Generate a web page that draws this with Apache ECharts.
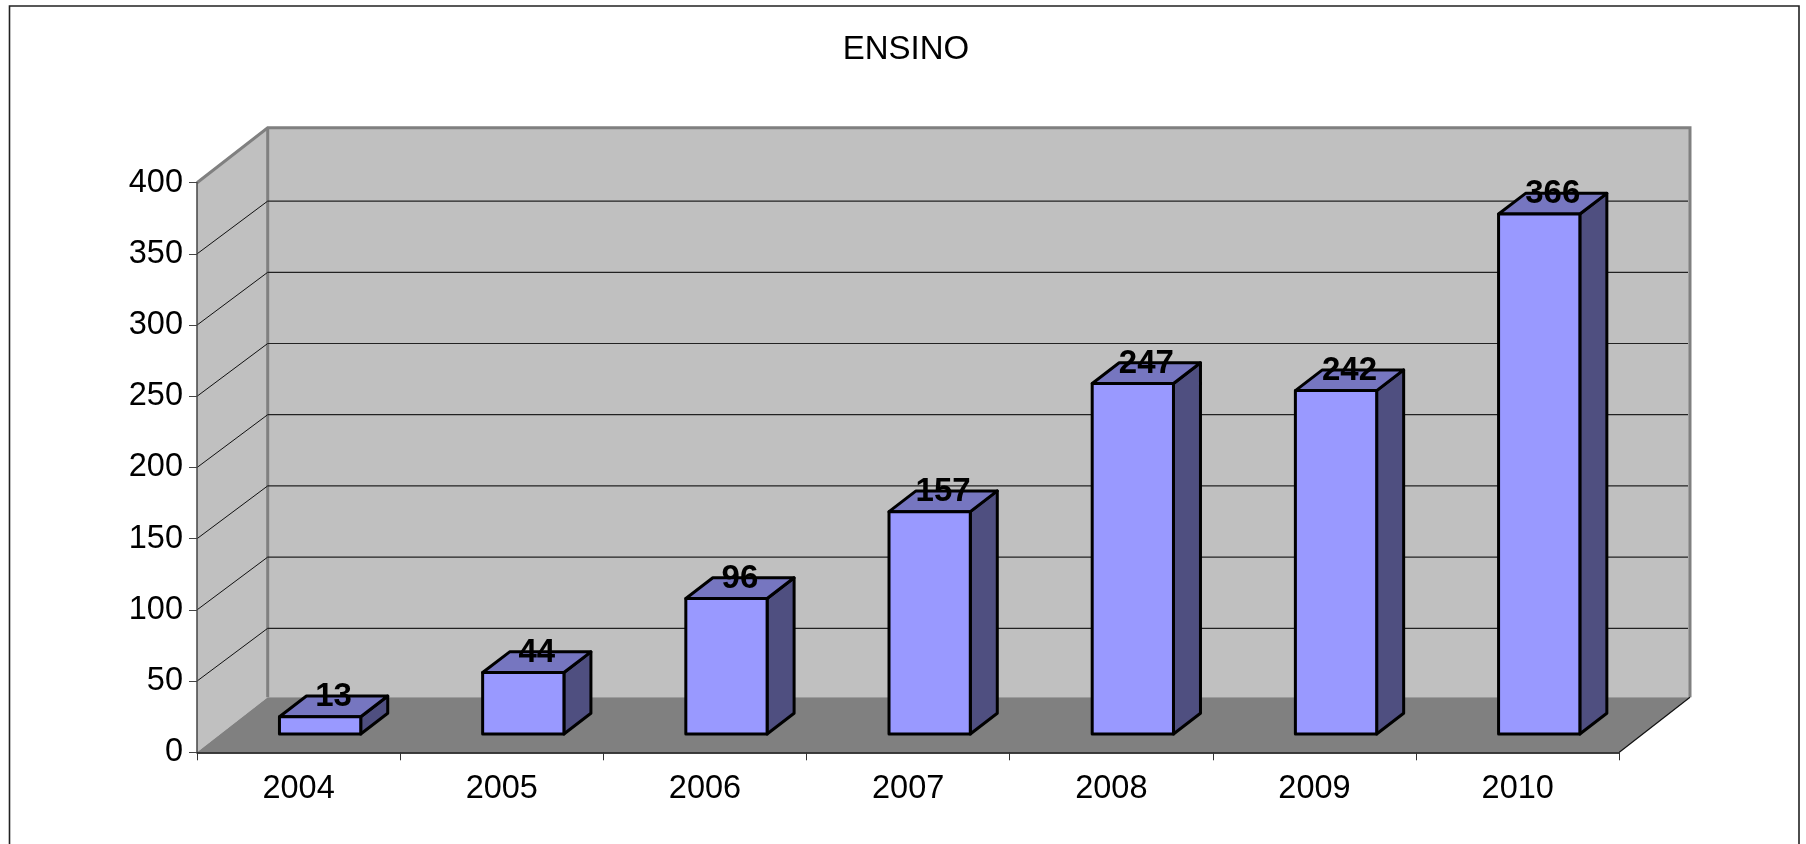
<!DOCTYPE html>
<html><head><meta charset="utf-8">
<style>html,body{margin:0;padding:0;background:#fff;overflow:hidden}#c{width:1806px;height:844px}</style>
<script src="https://cdn.jsdelivr.net/npm/echarts@6/dist/echarts.min.js"></script>
</head><body><div id="c"></div>
<script>
const titleText = 'ENSINO';
const categories = ['2004','2005','2006','2007','2008','2009','2010'];
const values = [13,44,96,157,247,242,366];
const gridTicks = [50,100,150,200,250,300,350,400];

const FONT = '"Liberation Sans", Arial, sans-serif';
const WALL_DX = 70.7, WALL_DY = 55, GRID_DY = 52.8;
const BAR_DX = 27, BAR_DY = 20.7, BAR_SHIFT_X = 21.5, BAR_SHIFT_Y = 18.3, BAR_TOP_ADJ = 1.2, BAR_W = 0.4;

const chart = echarts.init(document.getElementById('c'), null, {renderer:'canvas'});

function wallsItem(params, api){
  const r = params.coordSys;
  const x0 = r.x, x1 = r.x + r.width, yT = r.y, yB = r.y + r.height;
  const gray = '#808080';
  return {type:'group', children:[
    {type:'polygon', shape:{points:[[x0,yT],[x0+WALL_DX,yT-WALL_DY],[x0+WALL_DX,yB-WALL_DY],[x0,yB]]}, style:{fill:'#C0C0C0'}},
    {type:'rect', shape:{x:x0+WALL_DX,y:yT-WALL_DY,width:r.width,height:r.height}, style:{fill:'#C0C0C0'}},
    {type:'polygon', shape:{points:[[x0,yB],[x0+WALL_DX,yB-WALL_DY],[x1+WALL_DX,yB-WALL_DY],[x1,yB]]}, style:{fill:gray}},
    {type:'polyline', shape:{points:[[x0,yT],[x0+WALL_DX,yT-WALL_DY],[x1+WALL_DX,yT-WALL_DY],[x1+WALL_DX,yB-WALL_DY]]}, style:{stroke:gray,lineWidth:3,fill:null}},
    {type:'line', shape:{x1:x0+WALL_DX,y1:yT-WALL_DY,x2:x0+WALL_DX,y2:yB-WALL_DY}, style:{stroke:gray,lineWidth:3}},
    {type:'line', shape:{x1:x1,y1:yB,x2:x1+WALL_DX,y2:yB-WALL_DY}, style:{stroke:'#111',lineWidth:1.2}}
  ]};
}
function gridItem(params, api){
  const r = params.coordSys;
  const p = api.coord([0, api.value(0)]);
  const y = p[1], x0 = r.x, x1 = r.x + r.width;
  const top = api.value(0) === 400;
  return {type:'group', children: top ? [] : [
    {type:'line', shape:{x1:x0,y1:y,x2:x0+WALL_DX,y2:y-GRID_DY}, style:{stroke:'#111',lineWidth:1}},
    {type:'line', shape:{x1:x0+WALL_DX,y1:y-GRID_DY,x2:x1+WALL_DX-2,y2:y-GRID_DY}, style:{stroke:'#222',lineWidth:1.2}}
  ]};
}
function barItem(params, api){
  const i = api.value(0), v = api.value(1);
  const c = api.coord([i, v]), c0 = api.coord([i, 0]);
  const band = api.size([1,0])[0];
  const w = band * BAR_W;
  const xL = c[0] + BAR_SHIFT_X - w/2, xR = xL + w;
  const yT = c[1] - BAR_SHIFT_Y + BAR_TOP_ADJ, yB = c0[1] - BAR_SHIFT_Y;
  const ln = {stroke:'#000', lineWidth:3, lineJoin:'round'};
  return {type:'group', children:[
    {type:'polygon', shape:{points:[[xR,yT],[xR+BAR_DX,yT-BAR_DY],[xR+BAR_DX,yB-BAR_DY],[xR,yB]]}, style:Object.assign({fill:'#4F4F80'},ln)},
    {type:'polygon', shape:{points:[[xL,yT],[xL+BAR_DX,yT-BAR_DY],[xR+BAR_DX,yT-BAR_DY],[xR,yT]]}, style:Object.assign({fill:'#7676C0'},ln)},
    {type:'rect', shape:{x:xL,y:yT,width:w,height:yB-yT}, style:Object.assign({fill:'#9999FF'},ln)},
    {type:'text', style:{text:String(v), x:(xL+xR)/2+BAR_DX/2, y:yT-BAR_DY+1, align:'center', verticalAlign:'middle',
      font:'bold 33px '+FONT, fill:'#000'}}
  ]};
}

chart.setOption({
  animation:false,
  backgroundColor:'#fff',
  title:{text:titleText, left:901, top:28, textAlign:'center',
    textStyle:{fontFamily:FONT,fontSize:33,fontWeight:'normal',color:'#000'}},
  graphic:[{type:'rect', z:-1, shape:{x:9.5,y:6,width:1789.5,height:900}, style:{fill:'#fff',stroke:'#222',lineWidth:1.6}}],
  grid:{left:197, top:182.7, width:1422.3, height:569.6, containLabel:false},
  xAxis:{type:'category', data:categories, boundaryGap:true, z:6,
    axisLine:{show:true,lineStyle:{color:'#000',width:1.5}},
    axisTick:{show:true,alignWithLabel:false,length:8,lineStyle:{color:'#333',width:1}},
    axisLabel:{fontFamily:FONT,fontSize:32.5,color:'#000',margin:20},
    splitLine:{show:false}},
  yAxis:{type:'value', min:0, max:400, interval:50, z:6,
    axisLine:{show:true,lineStyle:{color:'#444',width:1.5}},
    axisTick:{show:true,length:8,lineStyle:{color:'#444',width:1}},
    axisLabel:{fontFamily:FONT,fontSize:32.5,color:'#000',margin:14},
    splitLine:{show:false}},
  series:[
    {type:'custom', name:'walls', z:1, silent:true, data:[0], renderItem:wallsItem, clip:false, encode:{x:0,y:0}},
    {type:'custom', name:'grid', z:2, silent:true, data:gridTicks.map(v=>[v]), renderItem:gridItem, clip:false, encode:{y:0}},
    {type:'custom', name:'ENSINO', z:10, data:values.map((v,i)=>[i,v]), renderItem:barItem, clip:false, encode:{x:0,y:1}}
  ]
});
</script></body></html>
